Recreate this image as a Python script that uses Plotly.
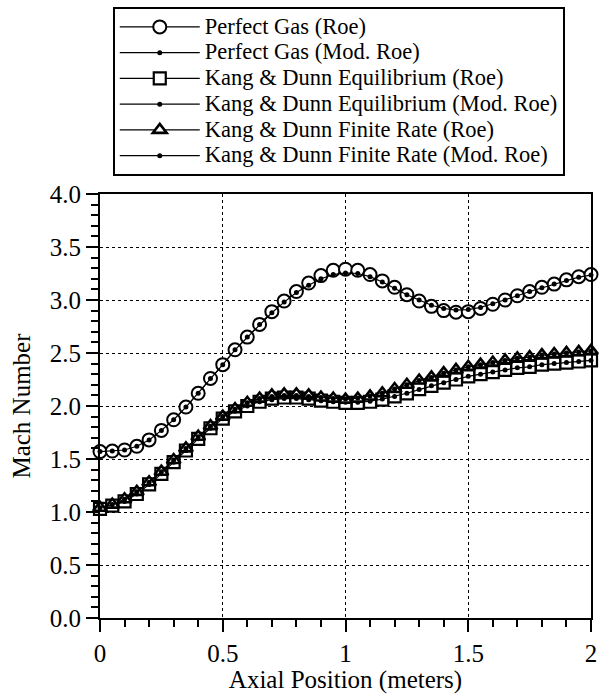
import plotly.graph_objects as go

# Axial stations (m)
axial_position = [round(0.05 * i, 2) for i in range(41)]

# Mach number along the nozzle for each gas model / flux scheme
perfect_gas_roe = [
    1.57, 1.575, 1.585, 1.62, 1.68, 1.77, 1.87, 1.99, 2.12, 2.26,
    2.39, 2.53, 2.65, 2.77, 2.89, 2.99, 3.08, 3.16, 3.23, 3.28,
    3.29, 3.28, 3.24, 3.18, 3.12, 3.05, 2.99, 2.94, 2.90, 2.885,
    2.89, 2.92, 2.96, 3.00, 3.04, 3.08, 3.12, 3.15, 3.19, 3.22, 3.24,
]
perfect_gas_mod_roe = [
    1.57, 1.575, 1.585, 1.62, 1.68, 1.77, 1.87, 1.99, 2.12, 2.26,
    2.39, 2.53, 2.65, 2.77, 2.88, 2.98, 3.07, 3.14, 3.20, 3.24,
    3.255, 3.25, 3.22, 3.17, 3.11, 3.05, 3.00, 2.95, 2.92, 2.905,
    2.91, 2.93, 2.965, 3.00, 3.04, 3.08, 3.115, 3.15, 3.185, 3.215, 3.235,
]
equilibrium_roe = [
    1.03, 1.06, 1.10, 1.17, 1.26, 1.36, 1.47, 1.58, 1.69, 1.79,
    1.88, 1.95, 2.00, 2.04, 2.07, 2.08, 2.08, 2.07, 2.05, 2.04,
    2.03, 2.03, 2.04, 2.06, 2.09, 2.12, 2.16, 2.19, 2.22, 2.25,
    2.28, 2.30, 2.32, 2.34, 2.36, 2.37, 2.39, 2.40, 2.41, 2.42, 2.43,
]
equilibrium_mod_roe = [
    1.03, 1.06, 1.10, 1.17, 1.26, 1.36, 1.47, 1.58, 1.69, 1.79,
    1.88, 1.95, 2.00, 2.04, 2.06, 2.07, 2.07, 2.06, 2.05, 2.04,
    2.035, 2.035, 2.045, 2.065, 2.09, 2.12, 2.155, 2.19, 2.22, 2.25,
    2.28, 2.30, 2.32, 2.34, 2.36, 2.37, 2.39, 2.40, 2.41, 2.42, 2.43,
]
finite_rate_roe = [
    1.04, 1.07, 1.12, 1.19, 1.28, 1.38, 1.49, 1.60, 1.71, 1.81,
    1.90, 1.97, 2.03, 2.07, 2.10, 2.11, 2.11, 2.10, 2.08, 2.07,
    2.06, 2.07, 2.09, 2.12, 2.16, 2.20, 2.24, 2.27, 2.31, 2.34,
    2.37, 2.39, 2.41, 2.43, 2.45, 2.46, 2.48, 2.49, 2.50, 2.51, 2.52,
]
finite_rate_mod_roe = [
    1.04, 1.07, 1.12, 1.19, 1.28, 1.38, 1.49, 1.60, 1.71, 1.81,
    1.90, 1.97, 2.03, 2.07, 2.09, 2.10, 2.10, 2.09, 2.08, 2.07,
    2.065, 2.075, 2.095, 2.12, 2.16, 2.20, 2.24, 2.27, 2.31, 2.34,
    2.37, 2.39, 2.41, 2.43, 2.45, 2.46, 2.48, 2.49, 2.50, 2.51, 2.52,
]

series_names = [
    "Perfect Gas (Roe)",
    "Perfect Gas (Mod. Roe)",
    "Kang &amp; Dunn Equilibrium (Roe)",
    "Kang &amp; Dunn Equilibrium (Mod. Roe)",
    "Kang &amp; Dunn Finite Rate (Roe)",
    "Kang &amp; Dunn Finite Rate (Mod. Roe)",
]
series_values = [
    perfect_gas_roe, perfect_gas_mod_roe,
    equilibrium_roe, equilibrium_mod_roe,
    finite_rate_roe, finite_rate_mod_roe,
]

dot_marker = dict(color="black", size=5, symbol="circle")
styles = [
    dict(marker=dict(symbol="circle", color="white", size=13,
                     line=dict(color="black", width=2))),
    dict(marker=dot_marker),
    dict(marker=dict(symbol="square", color="white", size=12,
                     line=dict(color="black", width=2.2))),
    dict(marker=dot_marker),
    dict(marker=dict(symbol="triangle-up", color="white", size=12,
                     line=dict(color="black", width=2.6))),
    dict(marker=dot_marker),
]

FONT = "Liberation Serif"

fig = go.Figure()
for name, vals, st in zip(series_names, series_values, styles):
    fig.add_trace(go.Scatter(
        x=axial_position, y=vals,
        mode="lines+markers",
        name='<span style="font-size:22.5px">' + name + "</span>",
        line=dict(color="black", width=1.2),
        cliponaxis=False,
        **st,
    ))

axis_common = dict(
    showline=True, linecolor="black", linewidth=2, mirror=True,
    showgrid=True, gridcolor="black", gridwidth=1, griddash="dot",
    zeroline=False,
    ticks="outside", ticklen=12, tickwidth=2, tickcolor="black",
    tickfont=dict(family=FONT, size=25, color="black"),
)
minor_ticks = dict(ticks="outside", ticklen=7, tickwidth=2,
                   tickcolor="black", showgrid=False)

fig.update_xaxes(
    range=[0, 2], tickvals=[0, 0.5, 1, 1.5, 2],
    ticktext=["0", "0.5", "1", "1.5", "2"],
    minor=dict(dtick=0.1, **minor_ticks),
    title=dict(text="Axial Position (meters)", standoff=2,
               font=dict(family=FONT, size=25, color="black")),
    **axis_common,
)
fig.update_yaxes(
    range=[0, 4], dtick=0.5, tickformat=".1f",
    minor=dict(dtick=0.1, **minor_ticks),
    title=dict(text="Mach Number", standoff=12,
               font=dict(family=FONT, size=25, color="black")),
    **axis_common,
)

fig.update_layout(
    width=604, height=694,
    margin=dict(l=100, r=7, t=193, b=75),
    paper_bgcolor="white", plot_bgcolor="white",
    font=dict(family=FONT, color="black"),
    showlegend=True,
    legend=dict(
        x=0.026, y=1.441, xanchor="left", yanchor="top",
        bgcolor="white", bordercolor="black", borderwidth=2,
        font=dict(family=FONT, size=17.5, color="black"),
        itemwidth=80, itemclick=False,
    ),
)

fig.write_html("out.html")
